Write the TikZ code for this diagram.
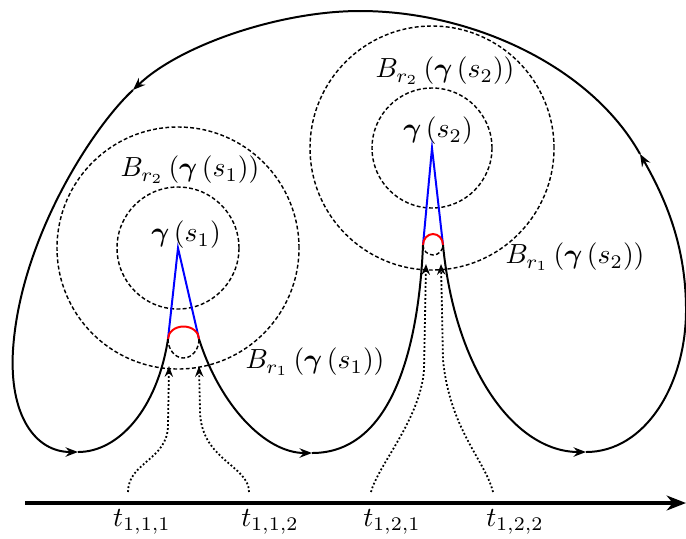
\documentclass[tikz,border=0pt]{standalone}
\usepackage{amsmath,amssymb}
\usetikzlibrary{arrows.meta}
\begin{document}
\begin{tikzpicture}[x=0.362pt,y=0.362pt,
  curve/.style={line width=0.72pt},
  curvearrow/.style={line width=0.72pt,-{Stealth[length=4.5pt,width=3.4pt,inset=1.5pt]}},
  ball/.style={line width=0.52pt, dash pattern=on 1.4pt off 0.85pt},
  trace/.style={line width=0.65pt, dash pattern=on 0.65pt off 0.8pt, -{Stealth[length=3.9pt,width=3pt,inset=1.3pt]}},
  spike/.style={blue, line width=0.72pt},
  capline/.style={red, line width=0.72pt},
  lbl/.style={inner sep=0pt}
]
\useasboundingbox (0,0) rectangle (686,-538);
% centres and spike points
\coordinate (c1) at (178,-248);
\coordinate (c2) at (432,-148);
\coordinate (L1) at (168,-339);
\coordinate (L2) at (199,-339);
\coordinate (R1) at (423,-245);
\coordinate (R2) at (443,-245);
% arrow points on the curve
\coordinate (A1) at (78,-452);
\coordinate (A2) at (312,-453);
\coordinate (A3) at (586,-452);
\coordinate (A4) at (640,-154);
\coordinate (A5) at (133,-90);
\coordinate (P1) at (686,-310);
\coordinate (P2) at (360,-11);
\coordinate (P3) at (13,-350);
% balls
\draw[ball] (c1) circle[radius=61];
\draw[ball] (c1) circle[radius=121];
\draw[ball] (c2) circle[radius=60];
\draw[ball] (c2) circle[radius=122];
% labels
\node[lbl] (g1) at (186,-235) {$\boldsymbol{\gamma}\left(s_1\right)$};
\node[lbl] (g2) at (438,-131) {$\boldsymbol{\gamma}\left(s_2\right)$};
\node[lbl] (b21) at (190,-170) {$B_{r_2}\left(\boldsymbol{\gamma}\left(s_1\right)\right)$};
\node[lbl] (b22) at (445,-71) {$B_{r_2}\left(\boldsymbol{\gamma}\left(s_2\right)\right)$};
\node[lbl] (b11) at (315,-362) {$B_{r_1}\left(\boldsymbol{\gamma}\left(s_1\right)\right)$};
\node[lbl] (b12) at (575,-257) {$B_{r_1}\left(\boldsymbol{\gamma}\left(s_2\right)\right)$};
% spikes
\draw[spike] (L1) -- (c1) -- (L2);
\draw[spike] (R1) -- (c2) -- (R2);
\draw[capline] (L1) arc[start angle=180,end angle=0,x radius=15.5,y radius=12.5];
\draw[capline] (R1) arc[start angle=180,end angle=0,x radius=10,y radius=11];
\draw[ball] (L1) arc[start angle=180,end angle=360,x radius=15.5,y radius=19];
\draw[ball] (R1) arc[start angle=180,end angle=360,x radius=10,y radius=10];
% main curve
\draw[curvearrow] (L2) .. controls (220,-405) and (265,-453) .. (A2);
\draw[curve] (A2) .. controls (395,-453) and (419,-340) .. (R1);
\draw[curvearrow] (R2) .. controls (455,-370) and (515,-452) .. (A3);
\draw[curve] (A3) .. controls (645,-452) and (686,-385) .. (P1);
\draw[curvearrow] (P1) .. controls (686,-245) and (665,-198) .. (A4);
\draw[curve] (A4) .. controls (590,-65) and (470,-11) .. (P2);
\draw[curvearrow] (P2) .. controls (280,-11) and (180,-45) .. (A5);
\draw[curve] (A5) .. controls (92,-128) and (20,-240) .. (P3);
\draw[curvearrow] (P3) .. controls (9,-415) and (35,-452) .. (A1);
\draw[curve] (A1) .. controls (118,-452) and (157,-410) .. (L1);
% time axis
\coordinate (ax0) at (25,-503);
\coordinate (ax1) at (686,-503);
\draw[line width=1.15pt,-{Stealth[length=7pt,width=5.4pt,inset=2.2pt]}] (ax0) -- (ax1);
% traces
\coordinate (t1) at (128,-492);
\coordinate (t2) at (249,-492);
\coordinate (t3) at (371,-492);
\coordinate (t4) at (493,-492);
\coordinate (e1) at (169,-366);
\coordinate (e2) at (199,-366);
\coordinate (e3) at (426,-264);
\coordinate (e4) at (441,-264);
\draw[trace] (t1) .. controls (128,-462) and (168,-460) .. (168,-425) -- (e1);
\draw[trace] (t2) .. controls (249,-465) and (200,-460) .. (200,-410) -- (e2);
\draw[trace] (t3) .. controls (378,-465) and (420,-420) .. (424,-370) -- (e3);
\draw[trace] (t4) .. controls (485,-460) and (450,-430) .. (443,-360) -- (e4);
% time labels
\node[lbl] (l1) at (142,-522) {$t_{1,1,1}$};
\node[lbl] (l2) at (270,-522) {$t_{1,1,2}$};
\node[lbl] (l3) at (392,-522) {$t_{1,2,1}$};
\node[lbl] (l4) at (515,-522) {$t_{1,2,2}$};
\end{tikzpicture}
\end{document}
